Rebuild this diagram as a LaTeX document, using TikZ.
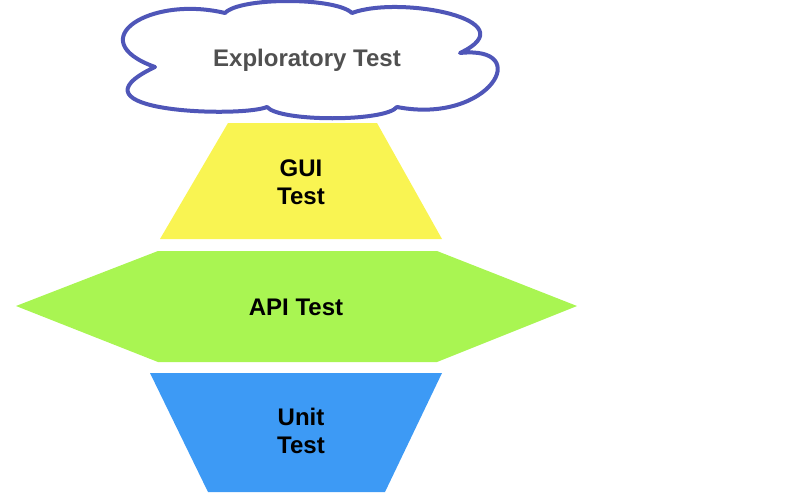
\documentclass[tikz,border=0pt]{standalone}
\usepackage{fontspec}
\setmainfont{Liberation Sans}
\usepackage{xcolor}
\usetikzlibrary{positioning}

\definecolor{cloudline}{HTML}{4F56B8}
\definecolor{cloudtext}{HTML}{505050}
\definecolor{guiyellow}{HTML}{F9F452}
\definecolor{apigreen}{HTML}{A9F552}
\definecolor{unitblue}{HTML}{3D9AF5}

\begin{document}
\begin{tikzpicture}[x=1pt, y=-1pt,
    layer/.style={font=\fontsize{24}{28}\selectfont\bfseries, align=center}]
  \useasboundingbox (0,0) rectangle (804,501);

  % Cloud (top)
  \draw[cloudline, line width=4pt, fill=white, line join=round]
    (225,13) .. controls (240,-3) and (335,-3) .. (352,13)
    .. controls (400,-5) and (530,20) .. (460,53)
    .. controls (535,45) and (490,125) .. (397,107)
    .. controls (385,122) and (280,122) .. (267,107)
    .. controls (240,118) and (60,112) .. (155,67)
    .. controls (80,40) and (150,-5) .. (225,13) -- cycle;
  \node[layer, text=cloudtext] (explore) at (307,60) {Exploratory Test};

  % GUI (trapezoid)
  \fill[guiyellow] (228,123) -- (377,123) -- (442,239) -- (160,239) -- cycle;
  \node[layer] (gui) at (301,182) {GUI\\Test};

  % API (hexagon)
  \fill[apigreen] (158,251) -- (437,251) -- (577,306) -- (437,362)
    -- (158,362) -- (16,306) -- cycle;
  \node[layer] (api) at (296,307) {API Test};

  % Unit (inverted trapezoid)
  \fill[unitblue] (150,373) -- (442,373) -- (385,492) -- (208,492) -- cycle;
  \node[layer] (unit) at (301,431) {Unit\\Test};
\end{tikzpicture}
\end{document}
